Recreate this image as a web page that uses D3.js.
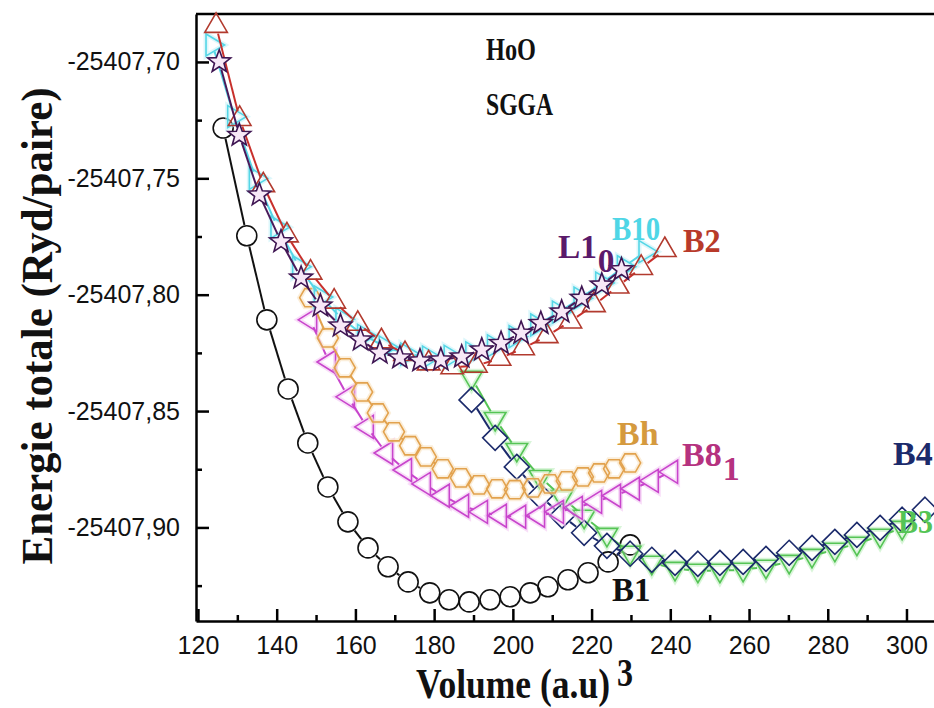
<!DOCTYPE html>
<html>
<head>
<meta charset="utf-8">
<script src="https://cdn.jsdelivr.net/npm/d3@7"></script>
<style>
  body { margin: 0; background: #fff; }
  svg { display: block; }
  .tick text { font-family: "Liberation Sans", Arial, sans-serif; }
</style>
</head>
<body>
<svg id="chart" width="934" height="708"></svg>
<script>
// volumes (a.u^3) and total energies (Ryd/paire)
var volB1 = [126.4,132.4,137.5,142.9,147.9,153.0,158.1,163.2,168.3,173.4,178.9,183.8,188.9,194.2,199.3,204.4,208.9,214.0,219.1,224.2,229.8];
var enB1  = [-25407.7284,-25407.7747,-25407.8108,-25407.8405,-25407.8637,-25407.8826,-25407.8976,-25407.9088,-25407.9169,-25407.9234,-25407.9281,-25407.9311,-25407.9320,-25407.9311,-25407.9298,-25407.9281,-25407.9255,-25407.9225,-25407.9195,-25407.9148,-25407.9075];

var volB2 = [124.6,130.6,136.6,142.6,148.6,154.6,160.6,166.6,172.6,178.6,184.6,190.6,196.6,202.6,208.6,214.6,220.6,226.6,232.6,238.6];
var enB2  = [-25407.6845,-25407.7245,-25407.7530,-25407.7745,-25407.7905,-25407.8030,-25407.8125,-25407.8200,-25407.8255,-25407.8295,-25407.8312,-25407.8305,-25407.8275,-25407.8230,-25407.8178,-25407.8115,-25407.8045,-25407.7965,-25407.7885,-25407.7808];

var volB10 = [123.7,129.2,134.7,140.2,145.7,151.2,156.7,162.2,167.7,173.2,178.7,184.2,189.7,195.2,200.7,206.2,211.7,217.2,222.7,228.2,233.7];
var enB10  = [-25407.6927,-25407.7235,-25407.7500,-25407.7710,-25407.7880,-25407.8010,-25407.8105,-25407.8175,-25407.8225,-25407.8255,-25407.8268,-25407.8265,-25407.8250,-25407.8220,-25407.8180,-25407.8130,-25407.8075,-25407.8015,-25407.7950,-25407.7880,-25407.7815];

var volL10 = [125.4,130.5,135.6,141.1,146.2,151.1,156.2,161.3,166.2,171.3,176.4,181.7,187.0,192.1,197.0,202.1,207.1,212.4,217.5,222.6,227.6];
var enL10  = [-25407.6999,-25407.7315,-25407.7571,-25407.7772,-25407.7928,-25407.8048,-25407.8134,-25407.8194,-25407.8250,-25407.8271,-25407.8284,-25407.8280,-25407.8267,-25407.8237,-25407.8209,-25407.8165,-25407.8123,-25407.8074,-25407.8015,-25407.7958,-25407.7892];

var volBh = [148.5,153.0,157.3,161.7,165.7,169.8,173.9,177.9,182.2,186.8,191.4,196.0,200.5,205.1,209.4,213.7,217.8,221.9,225.7,229.8];
var enBh  = [-25407.8013,-25407.8186,-25407.8314,-25407.8418,-25407.8508,-25407.8589,-25407.8649,-25407.8697,-25407.8748,-25407.8787,-25407.8817,-25407.8834,-25407.8838,-25407.8830,-25407.8813,-25407.8800,-25407.8783,-25407.8766,-25407.8748,-25407.8723];

var volB81 = [148.5,153.3,158.1,162.9,167.8,172.6,177.4,182.2,187.1,191.9,196.7,201.6,206.4,211.2,216.0,220.9,225.7,230.5,235.3,240.2];
var enB81  = [-25407.8108,-25407.8289,-25407.8439,-25407.8568,-25407.8680,-25407.8753,-25407.8813,-25407.8864,-25407.8907,-25407.8933,-25407.8950,-25407.8954,-25407.8950,-25407.8933,-25407.8916,-25407.8890,-25407.8864,-25407.8834,-25407.8800,-25407.8761];

var volB4 = [189.5,195.5,201.0,206.9,212.5,218.1,223.9,229.8,235.3,241.2,247.0,252.6,258.5,264.3,270.2,276.0,281.8,287.4,293.3,298.9,304.7];
var enB4  = [-25407.8452,-25407.8615,-25407.8740,-25407.8864,-25407.8950,-25407.9023,-25407.9079,-25407.9113,-25407.9139,-25407.9152,-25407.9156,-25407.9152,-25407.9148,-25407.9135,-25407.9109,-25407.9088,-25407.9062,-25407.9032,-25407.9002,-25407.8967,-25407.8924];

var volB3 = [189.5,195.5,201.0,206.9,212.5,218.1,223.9,229.8,235.3,241.2,247.0,252.6,258.5,264.3,270.2,276.0,281.8,287.4,293.3,298.9];
var enB3  = [-25407.8357,-25407.8534,-25407.8667,-25407.8783,-25407.8869,-25407.8954,-25407.9032,-25407.9109,-25407.9152,-25407.9178,-25407.9186,-25407.9186,-25407.9182,-25407.9169,-25407.9148,-25407.9122,-25407.9096,-25407.9070,-25407.9036,-25407.9002];

var xTicks = [120,140,160,180,200,220,240,260,280,300];
var xMinor = [130,150,170,190,210,230,250,270,290];
var yTicks = [-25407.90,-25407.85,-25407.80,-25407.75,-25407.70];
var yTickLabels = ["-25407,90","-25407,85","-25407,80","-25407,75","-25407,70"];
var yMinor = [-25407.925,-25407.875,-25407.825,-25407.775,-25407.725];

var svg = d3.select("#chart");

var x = d3.scaleLinear().domain([119.5, 307.5]).range([196, 936]);
var y = d3.scaleLinear().domain([-25407.9402, -25407.6794]).range([621, 14]);

// marker shapes, centred at 0,0
function poly(pts) { return "M" + pts.map(function(p){ return p[0].toFixed(2) + "," + p[1].toFixed(2); }).join("L") + "Z"; }
var shapes = {
  circle: function(){ var r = 10; return "M"+r+",0A"+r+","+r+" 0 1,1 "+(-r)+",0A"+r+","+r+" 0 1,1 "+r+",0Z"; },
  up: function(){ return poly([[0,-13],[11.3,6.5],[-11.3,6.5]]); },
  down: function(){ return poly([[0,12],[10.8,-6.5],[-10.8,-6.5]]); },
  right: function(){ return poly([[12,0],[-6.5,-11],[-6.5,11]]); },
  left: function(){ return poly([[-12,0],[6.5,-11.5],[6.5,11.5]]); },
  diamond: function(){ return poly([[0,-12.5],[12.5,0],[0,12.5],[-12.5,0]]); },
  hexagon: function(){ return poly(d3.range(6).map(function(i){ var a = i*Math.PI/3; return [10.5*Math.cos(a), 10.5*Math.sin(a)]; })); },
  star: function(){ return poly(d3.range(10).map(function(i){ var a = -Math.PI/2 + i*Math.PI/5, r = i%2 ? 5 : 12; return [r*Math.cos(a), r*Math.sin(a)]; })); }
};

var series = [
  {vol: volB1,  en: enB1,  shape: "circle",  color: "#111111", line: "#111111", fill: "none", gap: 11, halo: null},
  {vol: volB3,  en: enB3,  shape: "down",    color: "#55c455", line: "#55c455", fill: "none", gap: 9,  halo: "#bfeebf"},
  {vol: volB4,  en: enB4,  shape: "diamond", color: "#1b2a6b", line: "#1b2a6b", fill: "none", gap: 10, halo: null},
  {vol: volB81, en: enB81, shape: "left",    color: "#c845cc", line: "#c845cc", fill: "none", gap: 8,  halo: "#f3c8f3"},
  {vol: volBh,  en: enBh,  shape: "hexagon", color: "#e2a24e", line: "#e2a24e", fill: "none", gap: 9,  halo: "#f8e2c2"},
  {vol: volB10, en: enB10, shape: "right",   color: "#55d6e6", line: "#55d6e6", fill: "none", gap: 7,  halo: "#c6f2f8"},
  {vol: volB2,  en: enB2,  shape: "up",      color: "#b23a2e", line: "#c8302c", fill: "none", gap: 8,  halo: null},
  {vol: volL10, en: enL10, shape: "star",    color: "#3e1552", line: "#4a1a5a", fill: "#f7e8f7", gap: 8, halo: null}
];

// axes (ticks point inward)
var gx = svg.append("g").attr("transform", "translate(0,621)")
  .call(d3.axisBottom(x).tickValues(xTicks).tickSize(-12).tickSizeOuter(0).tickPadding(16));
gx.selectAll(".tick text").attr("font-size", "25px").attr("fill", "#111").attr("dy", "0.66em");
svg.append("g").attr("transform", "translate(0,621)")
  .call(d3.axisBottom(x).tickValues(xMinor).tickSize(-6).tickSizeOuter(0).tickFormat(""))
  .select(".domain").remove();

var gy = svg.append("g").attr("transform", "translate(196,0)")
  .call(d3.axisLeft(y).tickValues(yTicks).tickSize(-13).tickSizeOuter(0).tickPadding(16)
    .tickFormat(function(d, i){ return yTickLabels[i]; }));
gy.selectAll(".tick text").attr("font-size", "25px").attr("fill", "#111");
svg.append("g").attr("transform", "translate(196,0)")
  .call(d3.axisLeft(y).tickValues(yMinor).tickSize(-6).tickSizeOuter(0).tickFormat(""))
  .select(".domain").remove();

svg.selectAll(".domain, .tick line").attr("stroke", "#000").attr("stroke-width", 2.5);

// top frame line
svg.append("line").attr("x1", x.range()[0]).attr("x2", x.range()[1])
  .attr("y1", y.range()[1]).attr("y2", y.range()[1])
  .attr("stroke", "#000").attr("stroke-width", 2.5);

var plot = svg.append("g");

series.forEach(function(s) {
  var pts = s.vol.map(function(v, i){ return [x(v), y(s.en[i])]; });
  var g = plot.append("g");
  var d = shapes[s.shape]();

  // soft glow like the scanned figure
  if (s.halo) {
    g.selectAll("path.halo").data(pts).enter().append("path")
      .attr("class", "halo")
      .attr("d", d)
      .attr("transform", function(p){ return "translate(" + p[0] + "," + p[1] + ")"; })
      .attr("fill", "none")
      .attr("stroke", s.halo)
      .attr("stroke-width", 5)
      .attr("stroke-opacity", 0.6);
  }

  // connecting line, with a gap round each symbol
  d3.pairs(pts).forEach(function(p) {
    var dx = p[1][0] - p[0][0], dy = p[1][1] - p[0][1];
    var len = Math.sqrt(dx*dx + dy*dy);
    if (len <= 2 * s.gap) return;
    var ux = dx / len, uy = dy / len;
    g.append("line")
      .attr("x1", p[0][0] + ux*s.gap).attr("y1", p[0][1] + uy*s.gap)
      .attr("x2", p[1][0] - ux*s.gap).attr("y2", p[1][1] - uy*s.gap)
      .attr("stroke", s.line).attr("stroke-width", 2);
  });

  g.selectAll("path.mk").data(pts).enter().append("path")
    .attr("class", "mk")
    .attr("d", d)
    .attr("transform", function(p){ return "translate(" + p[0] + "," + p[1] + ")"; })
    .attr("fill", s.fill)
    .attr("stroke", s.color)
    .attr("stroke-width", 1.6)
    .attr("stroke-linejoin", "miter");
});

// labels (the figure's lettering is tall and narrow, so squeeze horizontally)
var serif = "'Liberation Serif', 'Times New Roman', serif";
function label(txt, sub, px, py, color, size, sx) {
  var t = svg.append("text")
    .attr("transform", "translate(" + px + "," + py + ") scale(" + sx + ",1)")
    .attr("font-family", serif).attr("font-weight", "bold")
    .attr("font-size", size + "px").attr("fill", color).text(txt);
  if (sub) t.append("tspan").attr("dy", size * 0.42).attr("dx", 1).text(sub);
}
label("HoO", null, 486, 60, "#111", 32, 0.76);
label("SGGA", null, 486, 115, "#111", 32, 0.74);
label("L1", "0", 558, 258, "#5a1a6a", 34, 0.98);
label("B10", null, 612, 240, "#4fd6e6", 34, 0.85);
label("B2", null, 683, 252, "#b83a2a", 34, 0.95);
label("Bh", null, 617, 445, "#d59a3e", 34, 1.0);
label("B8", "1", 682, 466, "#b5327f", 34, 1.0);
label("B4", null, 893, 465, "#1b2a6b", 34, 1.0);
label("B3", null, 898, 533, "#55c455", 34, 0.88);
label("B1", null, 612, 601, "#111", 34, 0.97);

// axis titles
svg.append("text")
  .attr("transform", "translate(52,326) rotate(-90)")
  .attr("text-anchor", "middle")
  .attr("font-family", serif).attr("font-weight", "bold").attr("font-size", "45px")
  .attr("textLength", 477).attr("lengthAdjust", "spacingAndGlyphs")
  .attr("fill", "#111")
  .text("Energie totale (Ryd/paire)");

svg.append("text").attr("x", 416).attr("y", 698)
  .attr("font-family", serif).attr("font-weight", "bold").attr("font-size", "43px")
  .attr("textLength", 194).attr("lengthAdjust", "spacingAndGlyphs")
  .attr("fill", "#111")
  .text("Volume (a.u)");
label("3", null, 617, 686, "#111", 40, 0.8);
</script>
</body>
</html>
